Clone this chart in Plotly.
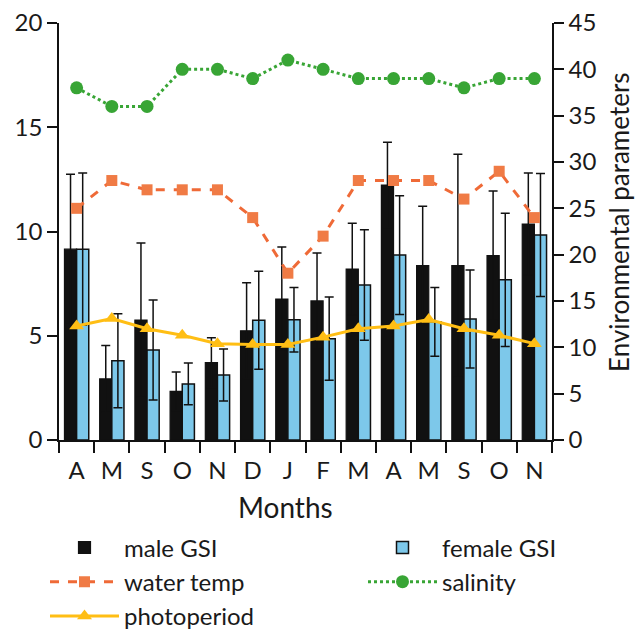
import plotly.graph_objects as go

months = ["A", "M", "S", "O", "N", "D", "J", "F", "M", "A", "M", "S", "O", "N"]
male_gsi = [9.15, 2.93, 5.75, 2.33, 3.71, 5.24, 6.76, 6.67, 8.2, 12.23, 8.36, 8.36, 8.84, 10.36]
male_sd = [3.6, 1.6, 3.7, 0.93, 1.2, 2.3, 2.5, 2.3, 2.2, 2.05, 2.85, 5.35, 3.1, 2.45]
female_gsi = [9.15, 3.8, 4.32, 2.69, 3.12, 5.74, 5.77, 4.86, 7.43, 8.87, 5.67, 5.8, 7.68, 9.83]
female_sd = [3.65, 2.25, 2.4, 1.0, 1.25, 2.35, 1.55, 2.0, 2.65, 2.85, 1.65, 2.35, 3.2, 2.95]
water_temp = [25, 28, 27, 27, 27, 24, 18, 22, 28, 28, 28, 26, 29, 24]
salinity = [38, 36, 36, 40, 40, 39, 41, 40, 39, 39, 39, 38, 39, 39]
photoperiod = [12.3, 13.1, 12.0, 11.3, 10.4, 10.3, 10.3, 11.1, 12.0, 12.3, 13.0, 12.0, 11.3, 10.4]

x = list(range(len(months)))
FONT = "Lato"
TXT = "#1a1a1a"

fig = go.Figure()
fig.add_trace(go.Bar(
    x=x, y=male_gsi, name="male GSI", legend="legend",
    marker=dict(color="#111111", line=dict(color="#111111", width=1.2)),
    error_y=dict(type="data", array=male_sd, visible=True, color="#111111", thickness=1.5, width=4.5),
))
fig.add_trace(go.Bar(
    x=x, y=female_gsi, name="female GSI", legend="legend2",
    marker=dict(color="#7DC8EA", line=dict(color="#111111", width=1.5)),
    error_y=dict(type="data", array=female_sd, visible=True, color="#111111", thickness=1.5, width=4.5),
))
fig.add_trace(go.Scatter(
    x=x, y=water_temp, name="water temp", yaxis="y2", mode="lines+markers", legend="legend",
    line=dict(color="#EF6A37", width=3, dash="dash"),
    marker=dict(symbol="square", size=11, color="#F07B45"),
))
fig.add_trace(go.Scatter(
    x=x, y=salinity, name="salinity", yaxis="y2", mode="lines+markers", legend="legend2",
    line=dict(color="#38A535", width=3, dash="dot"),
    marker=dict(symbol="circle", size=13, color="#38A535"),
))
fig.add_trace(go.Scatter(
    x=x, y=photoperiod, name="photoperiod", yaxis="y2", mode="lines+markers", legend="legend",
    line=dict(color="#FFBE14", width=3),
    marker=dict(symbol="triangle-up", size=13, color="#FFBE14"),
))

axis_common = dict(
    showline=True, linecolor="#111111", linewidth=1.5,
    showgrid=False, zeroline=False,
    tickfont=dict(family=FONT, size=24, color=TXT),
)

legend_common = dict(
    orientation="v", xref="container", yref="container",
    y=0.166, xanchor="left", yanchor="top",
    itemwidth=69,
    font=dict(family=FONT, size=24, color=TXT),
    traceorder="normal", bgcolor="rgba(0,0,0,0)",
)

fig.update_layout(
    width=637, height=630,
    margin=dict(l=59, r=85, t=23, b=190, autoexpand=False),
    paper_bgcolor="white", plot_bgcolor="white",
    font=dict(family=FONT, size=24, color=TXT),
    barmode="group", bargap=0.31, bargroupgap=0.0,
    xaxis=dict(
        range=[-0.5, 13.5], tickmode="array", tickvals=x, ticktext=months,
        ticks="outside", ticklen=8, tickcolor="rgba(0,0,0,0)",
        minor=dict(tickmode="array", tickvals=[i - 0.5 for i in range(len(months) + 1)],
                   ticks="outside", ticklen=11, tickwidth=1.5, tickcolor="#111111"),
        **axis_common,
    ),
    yaxis=dict(
        range=[0, 20], tickmode="linear", tick0=0, dtick=5,
        ticks="outside", ticklen=10, tickwidth=1.5, tickcolor="#111111",
        **axis_common,
    ),
    yaxis2=dict(
        range=[0, 45], tickmode="linear", tick0=0, dtick=5,
        overlaying="y", side="right",
        ticks="outside", ticklen=10, tickwidth=1.5, tickcolor="#111111",
        **axis_common,
    ),
    legend=dict(x=45 / 637, **legend_common),
    legend2=dict(x=363 / 637, **legend_common),
    annotations=[
        dict(
            text="Months", xref="paper", yref="paper",
            x=(285 - 59) / 493, y=(440 - 507) / 417,
            xanchor="center", yanchor="middle", showarrow=False,
            font=dict(family=FONT, size=28, color=TXT),
        ),
        dict(
            text="Environmental parameters", xref="paper", yref="paper",
            x=(619 - 59) / 493, y=(440 - 222) / 417, textangle=-90,
            xanchor="center", yanchor="middle", showarrow=False,
            font=dict(family=FONT, size=26, color=TXT),
        ),
    ],
)

fig.write_html("out.html")
